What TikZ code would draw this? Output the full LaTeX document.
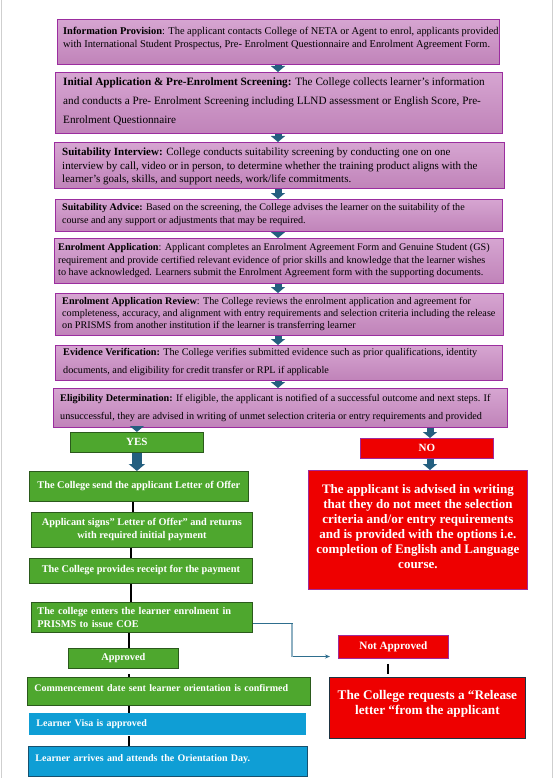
\documentclass[tikz,border=0pt]{standalone}
\usepackage{fontspec}
\setmainfont{Liberation Serif}
\usetikzlibrary{arrows.meta,calc}
\definecolor{pborder}{HTML}{9B2D9F}
\definecolor{ptop}{HTML}{D6A5D1}
\definecolor{pbot}{HTML}{C083B9}
\definecolor{gfill}{HTML}{4EA72E}
\definecolor{gborder}{HTML}{2B5A1C}
\definecolor{bfill}{HTML}{0F9ED5}
\definecolor{bborder}{HTML}{17506E}
\definecolor{rfill}{HTML}{EE0000}
\definecolor{rborder}{HTML}{A02A9A}
\definecolor{relborder}{HTML}{1E3342}
\definecolor{ablue}{HTML}{245F7F}
\definecolor{cdark}{HTML}{2E6E8E}
\definecolor{clight}{HTML}{8EB0C2}
\definecolor{edge}{HTML}{CFCFCF}
\begin{document}
\begin{tikzpicture}[x=1pt,y=-1pt,
  pbox/.style={draw=pborder,line width=0.9pt,top color=ptop,bottom color=pbot,
    anchor=north west,inner sep=0pt},
  ptxt/.style={anchor=north west,inner sep=0pt,align=left},
  gbox/.style={draw=gborder,line width=0.8pt,fill=gfill,text=white,
    font=\bfseries\fontsize{10.3}{13}\selectfont,anchor=north west,inner sep=0pt,align=center},
  gleft/.style={gbox,align=left,inner xsep=6pt},
  bbox/.style={gleft,fill=bfill,draw=bborder},
  rbox/.style={draw=rborder,line width=0.8pt,fill=rfill,text=white,anchor=north west,
    inner sep=0pt,align=center},
  barrow/.style={ablue,line width=7pt,-{Triangle[width=14pt,length=6pt]}},
  bigarrow/.style={ablue,line width=10pt,-{Triangle[width=16pt,length=7pt]}},
  bline/.style={black,line width=1.8pt},
]
\useasboundingbox (0,0) rectangle (554,778);
\fill[white] (0,0) rectangle (554,778);
\draw[edge,line width=1.3pt] (1.5,0) -- (1.5,778);
\draw[edge,line width=1.3pt] (552.8,0) -- (552.8,778);

% purple process boxes
\node[pbox,minimum width=442pt,minimum height=45pt] (b1) at (57,19) {};
\node[ptxt,font=\fontsize{10.4}{13}\selectfont] (t1) at (63,27.3)
 {\textbf{Information Provision}: The applicant contacts College of NETA or Agent to enrol, applicants provided\\
  with International Student Prospectus, Pre- Enrolment Questionnaire and Enrolment Agreement Form.};

\node[pbox,minimum width=447pt,minimum height=61pt] (b2) at (55,72) {};
\node[ptxt,font=\fontsize{11.2}{19}\selectfont] (t2) at (63,77.5)
 {\textbf{Initial Application \& Pre-Enrolment Screening:} The College collects learner’s information\\
  and conducts a Pre- Enrolment Screening including LLND assessment or English Score, Pre-\\
  Enrolment Questionnaire};

\node[pbox,minimum width=450pt,minimum height=46pt] (b3) at (54,142) {};
\node[ptxt,font=\fontsize{11}{13.5}\selectfont] (t3) at (62,148)
 {\textbf{Suitability Interview:} College conducts suitability screening by conducting one on one\\
  interview by call, video or in person, to determine whether the training product aligns with the\\
  learner’s goals, skills, and support needs, work/life commitments.};

\node[pbox,minimum width=447pt,minimum height=32pt] (b4) at (55,199) {};
\node[ptxt,font=\fontsize{10.1}{13}\selectfont] (t4) at (62,203.5)
 {\textbf{Suitability Advice:} Based on the screening, the College advises the learner on the suitability of the\\
  course and any support or adjustments that may be required.};

\node[pbox,minimum width=449pt,minimum height=45pt] (b5) at (54,238) {};
\node[ptxt,font=\fontsize{10.2}{12.5}\selectfont] (t5) at (58,243.4)
 {\textbf{Enrolment Application}: Applicant completes an Enrolment Agreement Form and Genuine Student (GS)\\
  requirement and provide certified relevant evidence of prior skills and knowledge that the learner wishes\\
  to have acknowledged. Learners submit the Enrolment Agreement form with the supporting documents.};

\node[pbox,minimum width=448pt,minimum height=42pt] (b6) at (55,293) {};
\node[ptxt,font=\fontsize{10.2}{11.7}\selectfont] (t6) at (62,297.4)
 {\textbf{Enrolment Application Review}: The College reviews the enrolment application and agreement for\\
  completeness, accuracy, and alignment with entry requirements and selection criteria including the release\\
  on PRISMS from another institution if the learner is transferring learner};

\node[pbox,minimum width=447pt,minimum height=35pt] (b7) at (55,345) {};
\node[ptxt,font=\fontsize{10.2}{17.5}\selectfont] (t7) at (63,348.4)
 {\textbf{Evidence Verification:} The College verifies submitted evidence such as prior qualifications, identity\\
  documents, and eligibility for credit transfer or RPL if applicable};

\node[pbox,minimum width=454pt,minimum height=39pt] (b8) at (53,388) {};
\node[ptxt,font=\fontsize{10.2}{18}\selectfont] (t8) at (60,394.4)
 {\textbf{Eligibility Determination:} If eligible, the applicant is notified of a successful outcome and next steps. If\\
  unsuccessful, they are advised in writing of unmet selection criteria or entry requirements and provided};

% arrows between purple boxes
\coordinate (ax) at (278,0);
\draw[barrow] (b1.south -| ax) -- (b2.north -| ax);
\draw[barrow] (b2.south -| ax) -- (b3.north -| ax);
\draw[barrow] (b3.south -| ax) -- (b4.north -| ax);
\draw[barrow] (b4.south -| ax) -- (b5.north -| ax);
\draw[barrow] (b5.south -| ax) -- (b6.north -| ax);
\draw[barrow] (b6.south -| ax) -- (b7.north -| ax);
\draw[barrow] (b7.south -| ax) -- (b8.north -| ax);

% YES branch
\node[gbox,font=\bfseries\fontsize{11}{13}\selectfont,minimum width=133pt,minimum height=20pt] (yes) at (70,432) {YES};
\node[gbox,minimum width=219pt,minimum height=30pt,text depth=4pt] (letter) at (29,471) {The College send the applicant Letter of Offer};
\node[gbox,minimum width=221pt,minimum height=35pt] (signs) at (31,512) {Applicant signs” Letter of Offer” and returns\\with required initial payment};
\node[gbox,minimum width=223pt,minimum height=25pt,text depth=5pt] (receipt) at (29,558) {The College provides receipt for the payment};
\node[gleft,minimum height=30pt,text width=209pt] (coe) at (31,602) {The college enters the learner enrolment in\\PRISMS to issue COE};
\node[gbox,minimum width=110pt,minimum height=20pt] (appr) at (68,648) {Approved};
\node[gleft,font=\bfseries\fontsize{10}{13}\selectfont,minimum height=28pt,text width=269pt,inner xsep=7pt,text depth=7pt] (comm) at (27,677) {Commencement date sent learner orientation is confirmed};
\node[bbox,font=\bfseries\fontsize{10}{13}\selectfont,draw=none,minimum height=22pt,text width=263pt,inner xsep=7pt] (visa) at (29,713) {Learner Visa is approved};
\node[bbox,font=\bfseries\fontsize{10}{13}\selectfont,minimum height=30pt,text width=265pt,inner xsep=7pt,text depth=7pt] (arrive) at (28,746) {Learner arrives and attends the Orientation Day.};

\draw[barrow] (yes.north |- b8.south) -- (yes.north);
\draw[bigarrow] (yes.south) -- (yes.south |- letter.north);

\coordinate (l1) at (133,0);
\coordinate (l2) at (131,0);
\coordinate (l3) at (129,0);
\draw[bline] (letter.south -| l1) -- (signs.north -| l1);
\draw[bline] (signs.south -| l2) -- (receipt.north -| l2);
\draw[bline] (receipt.south -| l2) -- (coe.north -| l2);
\draw[bline] (coe.south -| l3) -- (appr.north -| l3);
\draw[bline] ([yshift=-5pt]appr.south -| l3) -- (comm.north -| l3);
\draw[bline] (comm.south -| l3) -- (visa.north -| l3);
\draw[bline] (visa.south -| l3) -- (arrive.north -| l3);

% NO branch
\node[rbox,font=\bfseries\fontsize{11}{13}\selectfont,minimum width=133pt,minimum height=20pt] (no) at (360,438) {NO};
\node[rbox,font=\bfseries\fontsize{13}{15}\selectfont,minimum width=219pt,minimum height=119pt] (adv) at (308,470)
 {The applicant is advised in writing\\that they do not meet the selection\\criteria and/or entry requirements\\and is provided with the options i.e.\\completion of English and Language\\course.\rule[-6pt]{0pt}{0pt}};
\coordinate (nx) at (430,0);
\draw[barrow] (b8.south -| nx) -- (no.north -| nx);
\draw[barrow] (no.south -| nx) -- (adv.north -| nx);

\node[rbox,font=\bfseries\fontsize{11.2}{13}\selectfont,minimum width=110pt,minimum height=23pt] (na) at (338,635) {Not Approved};
\node[rbox,draw=relborder,font=\bfseries\fontsize{13.2}{15}\selectfont,minimum width=196pt,minimum height=61pt,text depth=10pt] (rel) at (329,677)
 {The College requests a “Release\\letter “from the applicant};
\coordinate (rx) at (388,0);
\draw[bline,line width=1.6pt] ([yshift=-5pt]na.south -| rx) -- ([yshift=3pt]rel.north -| rx);

% connector COE -> Not Approved
\coordinate (naend) at (330,656.5);
\coordinate (bend) at (292,0);
\draw[cdark,line width=0.9pt,-{Stealth[length=5pt,width=4pt]}] ([yshift=-6pt]coe.east) -- ([yshift=-6pt]coe.east -| bend) |- (naend);
\draw[clight,line width=1.2pt] ([yshift=-6.5pt]coe.east -| bend) -- (bend |- naend);
\end{tikzpicture}
\end{document}
